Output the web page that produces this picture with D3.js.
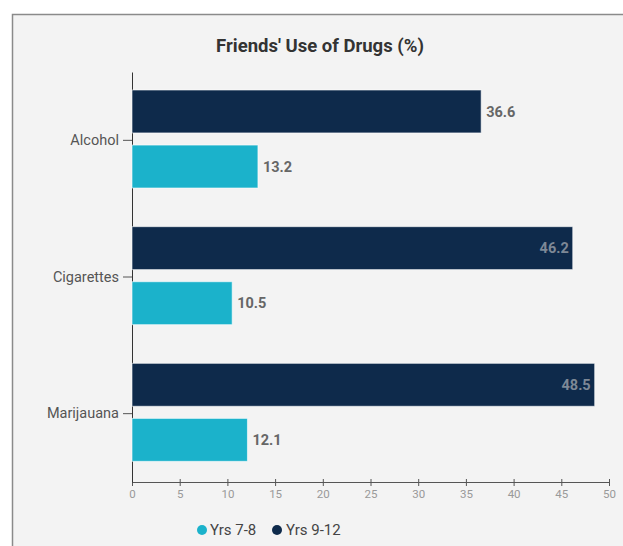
<!DOCTYPE html>
<html>
<head>
<meta charset="utf-8">
<script src="https://cdn.jsdelivr.net/npm/d3@7"></script>
<style>
  body { margin: 0; background: #fff; }
  text { font-family: Roboto, "Open Sans", sans-serif; }
</style>
</head>
<body>
<div id="myPlot"></div>
<script>
// Set Dimensions
const width = 623;
const height = 546;

// Data (label spelled as in the source chart)
const categories = ["Alcohol", "Cigarettes", "Marijauana"];
const seriesNames = ["Yrs 9-12", "Yrs 7-8"];
const yrs912 = [36.6, 46.2, 48.5];
const yrs78 = [13.2, 10.5, 12.1];
const xTicks = [0, 5, 10, 15, 20, 25, 30, 35, 40, 45, 50];
const colors = { "Yrs 9-12": "#0e2a4b", "Yrs 7-8": "#1bb2cb" };

const rows = categories.map((c, i) => ({
  cat: c,
  values: [
    { key: "Yrs 9-12", value: yrs912[i] },
    { key: "Yrs 7-8", value: yrs78[i] }
  ]
}));

const svg = d3.select("#myPlot")
  .append("svg")
  .attr("width", width)
  .attr("height", height);

// panel background + frame
svg.append("rect")
  .attr("x", 12.5)
  .attr("y", 14.5)
  .attr("width", 640)
  .attr("height", 560)
  .style("fill", "#f3f3f3")
  .style("stroke", "#8a8a8a")
  .style("stroke-width", 1.5);

// Title
svg.append("text")
  .attr("x", 320)
  .attr("y", 52)
  .style("text-anchor", "middle")
  .style("font-size", "18.5px")
  .style("font-weight", "bold")
  .style("fill", "#333")
  .text("Friends' Use of Drugs (%)");

// Scales
const x = d3.scaleLinear()
  .domain([0, 50])
  .range([132, 609]);

const y = d3.scaleBand()
  .domain(categories)
  .range([72, 482]);

const ySub = d3.scaleBand()
  .domain(seriesNames)
  .range([18, 116])
  .paddingInner(0.22);

// X Axis
const xAxis = svg.append("g")
  .attr("class", "x-axis")
  .attr("transform", "translate(0, 482)")
  .call(d3.axisBottom(x).tickValues(xTicks).tickSize(4).tickSizeOuter(0));
xAxis.select(".domain").style("stroke", "#555");
xAxis.selectAll(".tick line").attr("y1", -3).attr("y2", 4).style("stroke", "#555");
xAxis.selectAll(".tick text")
  .attr("y", 8)
  .style("font-size", "11.5px")
  .style("fill", "#999")
  .style("font-family", "Roboto, sans-serif");

// Y Axis
const yAxis = svg.append("g")
  .attr("class", "y-axis")
  .attr("transform", "translate(132, 0)")
  .call(d3.axisLeft(y).tickSize(9).tickSizeOuter(0));
yAxis.select(".domain").style("stroke", "#333");
yAxis.selectAll(".tick line").style("stroke", "#555");
yAxis.selectAll(".tick text")
  .attr("x", -13)
  .style("font-size", "14.5px")
  .style("fill", "#555")
  .style("font-family", "Roboto, sans-serif");

// Bars
const groups = svg.append("g")
  .selectAll(".grp")
  .data(rows)
  .enter()
  .append("g")
  .attr("class", "grp")
  .attr("transform", d => `translate(0, ${y(d.cat)})`);

groups.selectAll(".bar")
  .data(d => d.values)
  .enter()
  .append("rect")
  .attr("class", "bar")
  .attr("x", x(0))
  .attr("y", d => ySub(d.key))
  .attr("width", d => x(d.value) - x(0))
  .attr("height", ySub.bandwidth())
  .style("fill", d => colors[d.key])
  .style("stroke", "#ffffff")
  .style("stroke-opacity", 0.6)
  .style("stroke-width", 1);

// Value labels (inside if it would overflow)
groups.selectAll(".lbl")
  .data(d => d.values)
  .enter()
  .append("text")
  .attr("class", "lbl")
  .attr("x", d => d.value > 40 ? x(d.value) - 4 : x(d.value) + 5)
  .attr("y", d => ySub(d.key) + ySub.bandwidth() / 2)
  .attr("dy", "0.35em")
  .style("text-anchor", d => d.value > 40 ? "end" : "start")
  .style("font-size", "14.5px")
  .style("font-weight", "bold")
  .style("fill", d => d.value > 40 ? "#7d8896" : "#666")
  .text(d => d.value.toFixed(1));

// Legend
const legendItems = [
  { key: "Yrs 7-8", cx: 202, tx: 210 },
  { key: "Yrs 9-12", cx: 277, tx: 286 }
];
const legend = svg.append("g").attr("class", "legend");
legend.selectAll("circle")
  .data(legendItems)
  .enter()
  .append("circle")
  .attr("cx", d => d.cx)
  .attr("cy", 530)
  .attr("r", 5)
  .style("fill", d => colors[d.key]);
legend.selectAll("text")
  .data(legendItems)
  .enter()
  .append("text")
  .attr("x", d => d.tx)
  .attr("y", 530)
  .attr("dy", "0.35em")
  .style("font-size", "15px")
  .style("fill", "#444")
  .text(d => d.key);
</script>
</body>
</html>
